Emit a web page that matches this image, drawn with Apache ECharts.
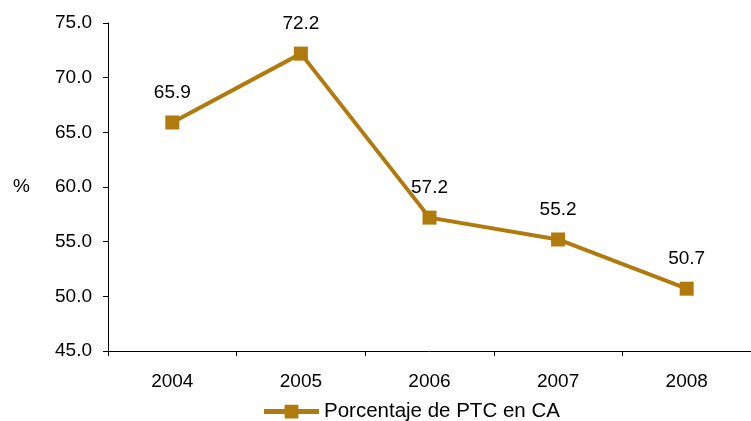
<!DOCTYPE html>
<html><head><meta charset="utf-8">
<script src="https://cdn.jsdelivr.net/npm/echarts@6/dist/echarts.min.js"></script>
<style>html,body{margin:0;padding:0;background:#fff}#c{width:751px;height:421px}</style>
</head><body><div id="c"></div>
<script>
const categories = ['2004','2005','2006','2007','2008'];
const values = [65.9, 72.2, 57.2, 55.2, 50.7];
const seriesName = 'Porcentaje de PTC en CA';
const yName = '%';
const chart = echarts.init(document.getElementById('c'), null, {renderer:'canvas'});
const F = 'Liberation Sans, Arial, sans-serif';
chart.setOption({
  animation:false,
  backgroundColor:'#fff',
  grid:{left:108, right:-3, top:23, bottom:70},
  legend:{left:264, top:401, itemWidth:55, itemHeight:14, padding:0,
    textStyle:{fontFamily:F, fontSize:20.5, color:'#000'},
    data:[{name:seriesName, icon:'path://M0,4.5h21v-4.5h14v4.5h21v5h-21v4.5h-14v-4.5h-21z'}]},
  xAxis:{type:'category', data:categories, boundaryGap:true,
    axisLine:{lineStyle:{color:'#000', width:1}},
    axisTick:{show:true, alignWithLabel:false, length:5, lineStyle:{color:'#000'}},
    axisLabel:{fontFamily:F, fontSize:19, color:'#000', margin:21}},
  yAxis:{type:'value', min:45, max:75, interval:5, name:yName, nameLocation:'middle', nameRotate:0, nameGap:78,
    nameTextStyle:{fontFamily:F, fontSize:19, color:'#000'},
    axisLine:{show:true, lineStyle:{color:'#000', width:1}},
    axisTick:{show:true, length:5, lineStyle:{color:'#000'}},
    splitLine:{show:false},
    axisLabel:{fontFamily:F, fontSize:19, color:'#000', margin:16, formatter:v=>v.toFixed(1)}},
  series:[{name:seriesName, type:'line', data:values, color:'#B07A0C',
    lineStyle:{width:4, color:'#B07A0C'}, symbol:'rect', symbolSize:14,
    itemStyle:{color:'#B07A0C'},
    label:{show:true, position:'top', distance:13, fontFamily:F, fontSize:19, color:'#000', formatter:p=>p.value.toFixed(1)}}]
});
</script></body></html>
